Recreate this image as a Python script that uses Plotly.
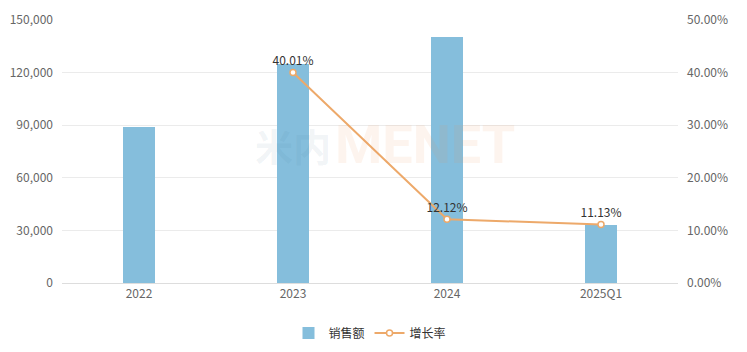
import plotly.graph_objects as go

categories = ["2022", "2023", "2024", "2025Q1"]
sales = [89000, 125000, 140300, 33100]
growth = [None, 40.01, 12.12, 11.13]
growth_labels = ["", "40.01%", "12.12%", "11.13%"]

left_ticks = [0, 30000, 60000, 90000, 120000, 150000]
right_ticks = [0, 10, 20, 30, 40, 50]

BAR = "#85BEDC"
LINE = "#EDA96A"
FONT = "Noto Sans CJK SC, Noto Sans, sans-serif"

fig = go.Figure()
fig.add_trace(go.Bar(
    x=categories, y=sales, name="销售额", marker=dict(color=BAR, line=dict(width=0)),
    width=0.21, yaxis="y", hoverinfo="skip",
))
fig.add_trace(go.Scatter(
    x=categories, y=growth, name="增长率", mode="lines+markers+text",
    line=dict(color=LINE, width=2),
    marker=dict(symbol="circle", size=6, color="white", line=dict(color=LINE, width=1.5)),
    text=growth_labels, textposition="top center",
    textfont=dict(size=12, color="#333333", family=FONT),
    yaxis="y2", hoverinfo="skip", cliponaxis=False,
))

fig.update_layout(
    width=747, height=352,
    margin=dict(l=62, r=69, t=20, b=69, autoexpand=False),
    paper_bgcolor="white", plot_bgcolor="white",
    font=dict(family=FONT, size=12, color="#666666"),
    showlegend=True,
    legend=dict(orientation="h", x=0.5, xanchor="center", y=-0.135, yanchor="top",
                font=dict(size=12, color="#333333"), itemwidth=30, traceorder="normal"),
    bargap=0,
    xaxis=dict(
        type="category", showgrid=False, showline=True, linecolor="#DDDDDD", linewidth=1,
        ticks="", tickfont=dict(size=12, color="#666666"), fixedrange=True,
    ),
    yaxis=dict(
        range=[0, 150000], tickvals=left_ticks, tickformat=",", showgrid=True,
        gridcolor="#EBEBEB", gridwidth=1, zeroline=False, showline=False,
        ticks="", ticklabelstandoff=8, tickfont=dict(size=12, color="#666666"),
    ),
    yaxis2=dict(
        range=[0, 50], tickvals=right_ticks,
        ticktext=[f"{v:.2f}%" for v in right_ticks],
        overlaying="y", side="right", showgrid=False, zeroline=False, showline=False,
        ticks="", ticklabelstandoff=8, tickfont=dict(size=12, color="#666666"),
    ),
)

# faint watermark
fig.add_annotation(text="<b>米内</b>", xref="paper", yref="paper", x=0.31, y=0.525,
                   showarrow=False, font=dict(size=38, color="rgba(60,110,140,0.08)", family=FONT))
fig.add_annotation(text="<b>MENET</b>", xref="paper", yref="paper", x=0.59, y=0.525,
                   showarrow=False, font=dict(size=54, color="rgba(240,150,90,0.10)", family="Roboto, sans-serif"))

fig.write_html("out.html")
